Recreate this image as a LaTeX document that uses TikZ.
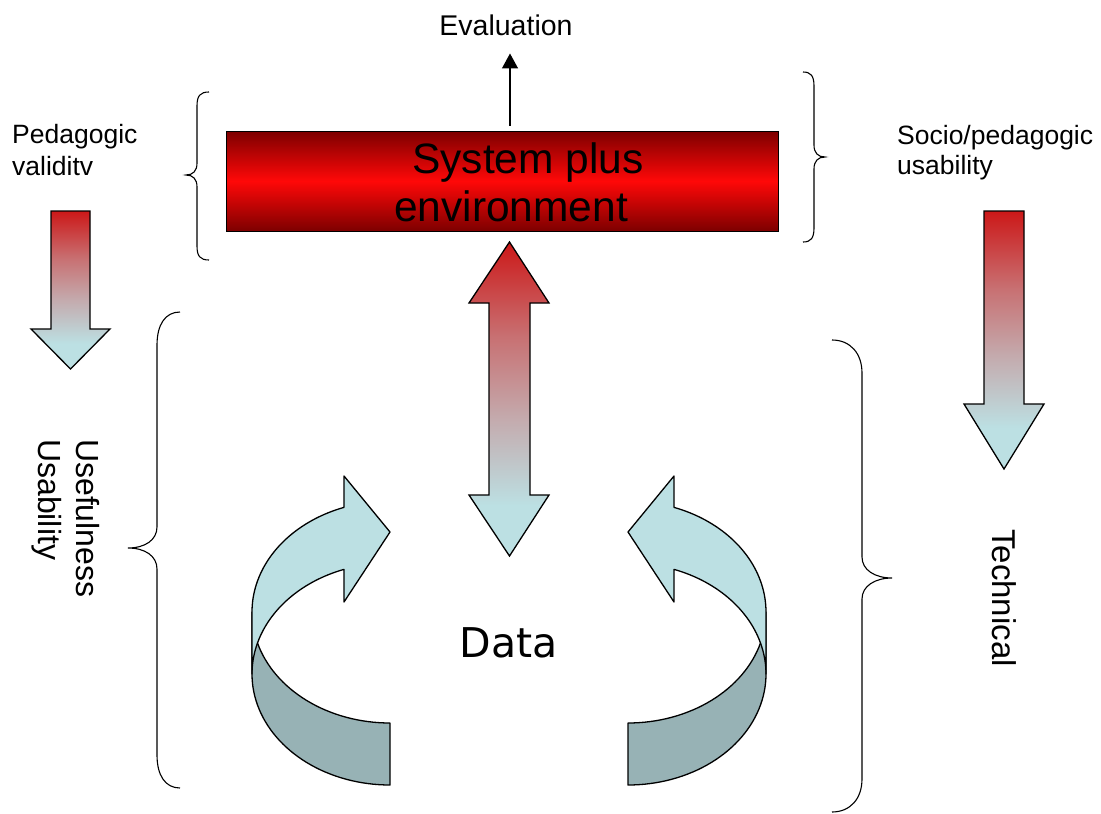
\documentclass[tikz,border=0pt]{standalone}
\usepackage{fontspec}
\setmainfont{Liberation Sans}
\newfontfamily\datafont{DejaVu Sans}
\usetikzlibrary{arrows.meta}
\definecolor{arrRed}{RGB}{204,24,24}
\definecolor{arrPink}{RGB}{200,112,114}
\definecolor{arrMid}{RGB}{196,170,173}
\definecolor{arrBlue}{RGB}{188,224,227}
\definecolor{boxDark}{RGB}{125,0,0}
\definecolor{boxBright}{RGB}{255,8,8}
\definecolor{bandLight}{RGB}{188,224,227}
\definecolor{bandDark}{RGB}{151,178,181}
\pgfdeclareverticalshading{arrshade}{100bp}{color(0bp)=(arrBlue); color(25bp)=(arrBlue); color(33bp)=(arrBlue); color(47bp)=(arrMid); color(60bp)=(arrPink); color(75bp)=(arrRed); color(100bp)=(arrRed)}
\begin{document}
\begin{tikzpicture}[x=1pt,y=-1pt,
  gradarrow/.style={draw=black, line width=1.3pt, shading=arrshade, line join=miter},
  band/.style={draw=black, line width=1.3pt, line join=round},
  bracepath/.style={draw=black, line width=1.1pt},
  sysbox/.style={draw=black, line width=1pt, top color=boxDark, bottom color=boxDark, middle color=boxBright, inner sep=0pt},
  lbl/.style={font=\fontsize{26.5}{31}\selectfont, inner sep=0pt},
  rotlbl/.style={font=\fontsize{32}{38}\selectfont, inner sep=0pt, rotate=-90, align=left},
  systxt/.style={font=\fontsize{42.5}{48}\selectfont, inner sep=0pt, anchor=base west},
  evalarrow/.style={draw=black, line width=1.3pt, -{Triangle[width=16pt,length=15pt]}}
]
\useasboundingbox (0,0) rectangle (1101,814);

% top box
\node[sysbox, minimum width=552pt, minimum height=100pt] (sys) at (502,181) {};
\node[systxt] (sysA) at (412,173) {System plus};
\node[systxt] (sysB) at (394,221) {environment};

% evaluation
\node[font=\fontsize{28.5}{34}\selectfont, inner sep=0pt, anchor=base] (eval) at (506,35) {Evaluation};
\coordinate (evx) at (510,0);
\draw[evalarrow, shorten <=5pt, shorten >=18pt] (sys.north -| evx) -- (eval.south -| evx);

% side labels
\node[lbl, anchor=base west] (ped1) at (12,143) {Pedagogic};
\node[lbl, anchor=base west] (ped2) at (12,175) {validitv};
\node[lbl, anchor=base west] (soc1) at (897,144) {Socio/pedagogic};
\node[lbl, anchor=base west] (soc2) at (897,174) {usability};

% gradient arrows
\path[gradarrow] (51,211) -- (90,211) -- (90,329) -- (110,329) -- (70.5,369) -- (31,329) -- (51,329) -- cycle;
\path[gradarrow] (984,211) -- (1024,211) -- (1024,404) -- (1044,404) -- (1004,469) -- (964,404) -- (984,404) -- cycle;
\path[gradarrow] (509.5,242) -- (549,303) -- (530,303) -- (530,495) -- (549,495) -- (509.5,556) -- (469,495) -- (489,495) -- (489,303) -- (469,303) -- cycle;

% braces
\path[bracepath] (209,92) .. controls (200,92) and (197,96) .. (197,106) -- (197,163) .. controls (197,171) and (193,175) .. (186,175) .. controls (193,175) and (197,179) .. (197,187) -- (197,246) .. controls (197,256) and (200,260) .. (209,260);
\path[bracepath] (803,72) .. controls (811,72) and (814,76) .. (814,86) -- (814,145) .. controls (814,153) and (818,157) .. (825,157) .. controls (818,157) and (814,161) .. (814,169) -- (814,228) .. controls (814,238) and (811,242) .. (803,242);
\path[bracepath] (180,312) .. controls (165,312) and (157,325) .. (157,345) -- (157,527) .. controls (157,540) and (145,548) .. (128,548) .. controls (145,548) and (157,556) .. (157,569) -- (157,755) .. controls (157,775) and (165,788) .. (180,788);
\path[bracepath] (832,340) .. controls (850,340) and (862,353) .. (862,373) -- (862,557) .. controls (862,570) and (875,578) .. (892,578) .. controls (875,578) and (862,586) .. (862,599) -- (862,779) .. controls (862,799) and (850,812) .. (832,812);

% rotated labels
\node[rotlbl, anchor=north west] (usef) at (100,439) {Usefulness\\Usability};
\node[rotlbl, anchor=north west, font=\fontsize{33}{38}\selectfont] (tech) at (1017,529) {Technical};

% curved arrows (left)
\path[band, fill=bandDark] plot[domain=180:90, samples=40] ({390+138*cos(\x)},{674+111*sin(\x)}) -- (390,723) -- plot[domain=90:180, samples=40] ({390+138*cos(\x)},{612+111*sin(\x)}) -- cycle;
\path[band, fill=bandLight] plot[domain=250.5:180, samples=40] ({390+138*cos(\x)},{612+111*sin(\x)}) -- plot[domain=180:250.5, samples=40] ({390+138*cos(\x)},{674+111*sin(\x)}) -- (344,602) -- (390,532) -- (344,476) -- cycle;
% curved arrows (right)
\path[band, fill=bandDark] plot[domain=180:90, samples=40] ({628-138*cos(\x)},{674+111*sin(\x)}) -- (628,723) -- plot[domain=90:180, samples=40] ({628-138*cos(\x)},{612+111*sin(\x)}) -- cycle;
\path[band, fill=bandLight] plot[domain=250.5:180, samples=40] ({628-138*cos(\x)},{612+111*sin(\x)}) -- plot[domain=180:250.5, samples=40] ({628-138*cos(\x)},{674+111*sin(\x)}) -- (674,602) -- (628,532) -- (674,476) -- cycle;

% data
\node[font=\datafont\fontsize{41}{48}\selectfont, inner sep=0pt, anchor=base] (data) at (508.5,657) {Data};
\end{tikzpicture}
\end{document}
